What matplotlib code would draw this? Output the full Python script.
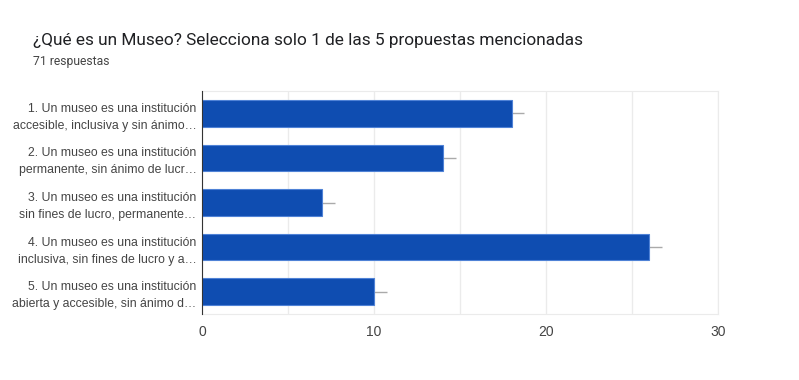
import matplotlib.pyplot as plt

labels = [
    "1. Un museo es una institución\naccesible, inclusiva y sin ánimo…",
    "2. Un museo es una institución\npermanente, sin ánimo de lucr…",
    "3. Un museo es una institución\nsin fines de lucro, permanente…",
    "4. Un museo es una institución\ninclusiva, sin fines de lucro y a…",
    "5. Un museo es una institución\nabierta y accesible, sin ánimo d…",
]
counts = [18, 14, 7, 26, 10]
ticks = [0, 10, 20, 30]

plt.rcParams['font.family'] = ['Liberation Sans', 'DejaVu Sans']

fig = plt.figure(figsize=(7.99, 3.8), dpi=100)
ax = fig.add_axes([0.2528, 0.1737, 0.6458, 0.5868])

y = list(range(len(counts)))
ax.barh(y, counts, height=0.6, color='#0f4db1', edgecolor='#4f82d6', linewidth=0.8, zorder=3)
# small grey stubs at the end of each bar
ax.errorbar(counts, y, xerr=[[0] * len(counts), [0.75] * len(counts)],
            fmt='none', ecolor='#aaaaaa', elinewidth=1, capsize=0, zorder=2)

ax.set_ylim(len(counts) - 0.5, -0.5)
ax.set_xlim(0, 30)
ax.set_yticks(y)
ax.set_yticklabels(labels, fontsize=8.8, color='#444444', linespacing=1.55)
ax.set_xticks(ticks)
ax.set_xticklabels([str(t) for t in ticks], fontsize=10, color='#444444')
ax.set_xticks([5, 15, 25], minor=True)
ax.tick_params(axis='both', which='both', length=0)
ax.tick_params(axis='x', pad=8)
ax.tick_params(axis='y', pad=4)
ax.grid(axis='x', which='both', color='#ebebeb', linewidth=1, zorder=0)

for s in ['top', 'right', 'bottom']:
    ax.spines[s].set_color('#ebebeb')
ax.spines['left'].set_color('#333333')
ax.spines['left'].set_zorder(4)

fig.text(33 / 799, 1 - 40 / 380, "¿Qué es un Museo? Selecciona solo 1 de las 5 propuestas mencionadas",
         fontsize=12.4, family=['Roboto', 'DejaVu Sans'], color='#202124', va='center')
fig.text(33 / 799, 1 - 61 / 380, "71 respuestas", fontsize=8.7, family=['Roboto', 'DejaVu Sans'],
         color='#444444', va='center')

plt.savefig("out.png", dpi=100)
